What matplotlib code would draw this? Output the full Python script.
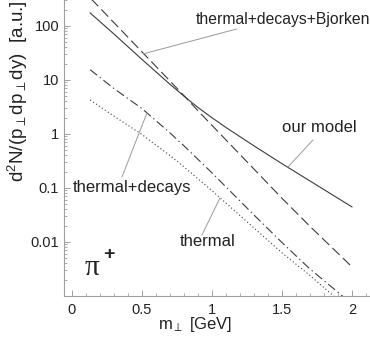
import numpy as np
import matplotlib
matplotlib.use('Agg')
import matplotlib.pyplot as plt
from matplotlib.ticker import FixedLocator, FixedFormatter, LogLocator, NullFormatter, MultipleLocator

plt.rcParams['font.family'] = ['Liberation Sans', 'DejaVu Sans']
plt.rcParams['mathtext.fontset'] = 'custom'
plt.rcParams['mathtext.rm'] = 'Liberation Sans'
plt.rcParams['mathtext.it'] = 'Liberation Sans'

# transverse mass [GeV] and log10 of the spectra
mt = [0.13, 0.3, 0.5, 0.7, 0.8, 0.9, 1.0, 1.1, 1.3, 1.5, 1.7, 1.9, 2.0]
log_model = [2.24, 1.85, 1.38, 0.92, 0.70, 0.49, 0.30, 0.12, -0.22, -0.55, -0.87, -1.19, -1.35]
log_bjorken = [2.52, 2.06, 1.52, 0.98, 0.71, 0.43, 0.16, -0.11, -0.65, -1.19, -1.71, -2.21, -2.46]
log_decays = [1.19, 0.84, 0.47, 0.02, -0.22, -0.47, -0.72, -0.98, -1.50, -2.01, -2.50, -2.93, -3.15]
log_thermal = [0.63, 0.33, -0.01, -0.40, -0.61, -0.83, -1.05, -1.28, -1.74, -2.20, -2.62, -3.07, -3.3]

xticks = [0, 0.5, 1, 1.5, 2]
xticklabels = ['0', '0.5', '1', '1.5', '2']
yticks = [0.01, 0.1, 1, 10, 100]
yticklabels = ['0.01', '0.1', '1', '10', '100']

fig = plt.figure(figsize=(3.70, 3.54), dpi=100)
ax = fig.add_axes([64/370, 58/354, 306/370, 296/354])

lc = '#3c3c3c'
ax.plot(mt, 10**np.array(log_model), color=lc, lw=0.8)
ax.plot(mt, 10**np.array(log_bjorken), color=lc, lw=0.8, dashes=(9, 4))
ax.plot(mt, 10**np.array(log_decays), color=lc, lw=0.8, dashes=(8, 3, 1.2, 3))
ax.plot(mt, 10**np.array(log_thermal), color=lc, lw=0.8, dashes=(1, 2.2))

ax.set_yscale('log')
ax.set_xlim(-0.057, 2.129)
ax.set_ylim(0.001, 302)

for s in ['top', 'right']:
    ax.spines[s].set_visible(False)
for s in ['left', 'bottom']:
    ax.spines[s].set_color('#a0a0a0')
    ax.spines[s].set_linewidth(0.8)

ax.xaxis.set_major_locator(FixedLocator(xticks))
ax.xaxis.set_major_formatter(FixedFormatter(xticklabels))
ax.xaxis.set_minor_locator(MultipleLocator(0.1))
ax.yaxis.set_major_locator(FixedLocator(yticks))
ax.yaxis.set_major_formatter(FixedFormatter(yticklabels))
ax.yaxis.set_minor_locator(LogLocator(base=10, subs=np.arange(2, 10), numticks=20))
ax.yaxis.set_minor_formatter(NullFormatter())
ax.tick_params(which='both', direction='in', color='#a0a0a0', labelcolor='#222222', labelsize=10.5)
ax.tick_params(which='major', length=4, width=0.7)
ax.tick_params(which='minor', length=2, width=0.6)
ax.tick_params(axis='x', pad=5)

fig.text(18/370, 1 - 91/354, r'd$^2$N/(p$_\perp$dp$_\perp$dy)  [a.u.]', rotation=90,
         ha='center', va='center', fontsize=13.5, color='#222222')
fig.text(195/370, 1 - 325/354, r'm$_\perp$ [GeV]', ha='center', va='center',
         fontsize=12, color='#222222')

def px(x, y):
    return (x - 72) / 140, 10 ** ((134 - y) / 54)

tc = '#222222'
ax.text(*px(196, 20), 'thermal+decays+Bjorken', fontsize=11.3, color=tc, va='center', ha='left')
ax.text(*px(282, 128), 'our model', fontsize=12, color=tc, va='center', ha='left')
ax.text(*px(73, 188), 'thermal+decays', fontsize=12, color=tc, va='center', ha='left')
ax.text(*px(180, 242), 'thermal', fontsize=12, color=tc, va='center', ha='left')

gc = '#9a9a9a'
for a, b in [((237, 29), (143, 54)), ((313, 140), (288, 167)),
             ((122, 177), (147, 113)), ((202, 235), (220, 198))]:
    ax.annotate('', xy=px(*b), xytext=px(*a),
                arrowprops=dict(arrowstyle='-', color=gc, lw=0.7, shrinkA=0, shrinkB=0))

ax.text(*px(85, 268), '\u03c0', fontsize=21, family='Liberation Serif', color=tc, va='center', ha='left')
ax.text(*px(103, 255), '+', fontsize=14, fontweight='bold', color=tc, va='center', ha='left')

fig.savefig('out.png', dpi=100)
